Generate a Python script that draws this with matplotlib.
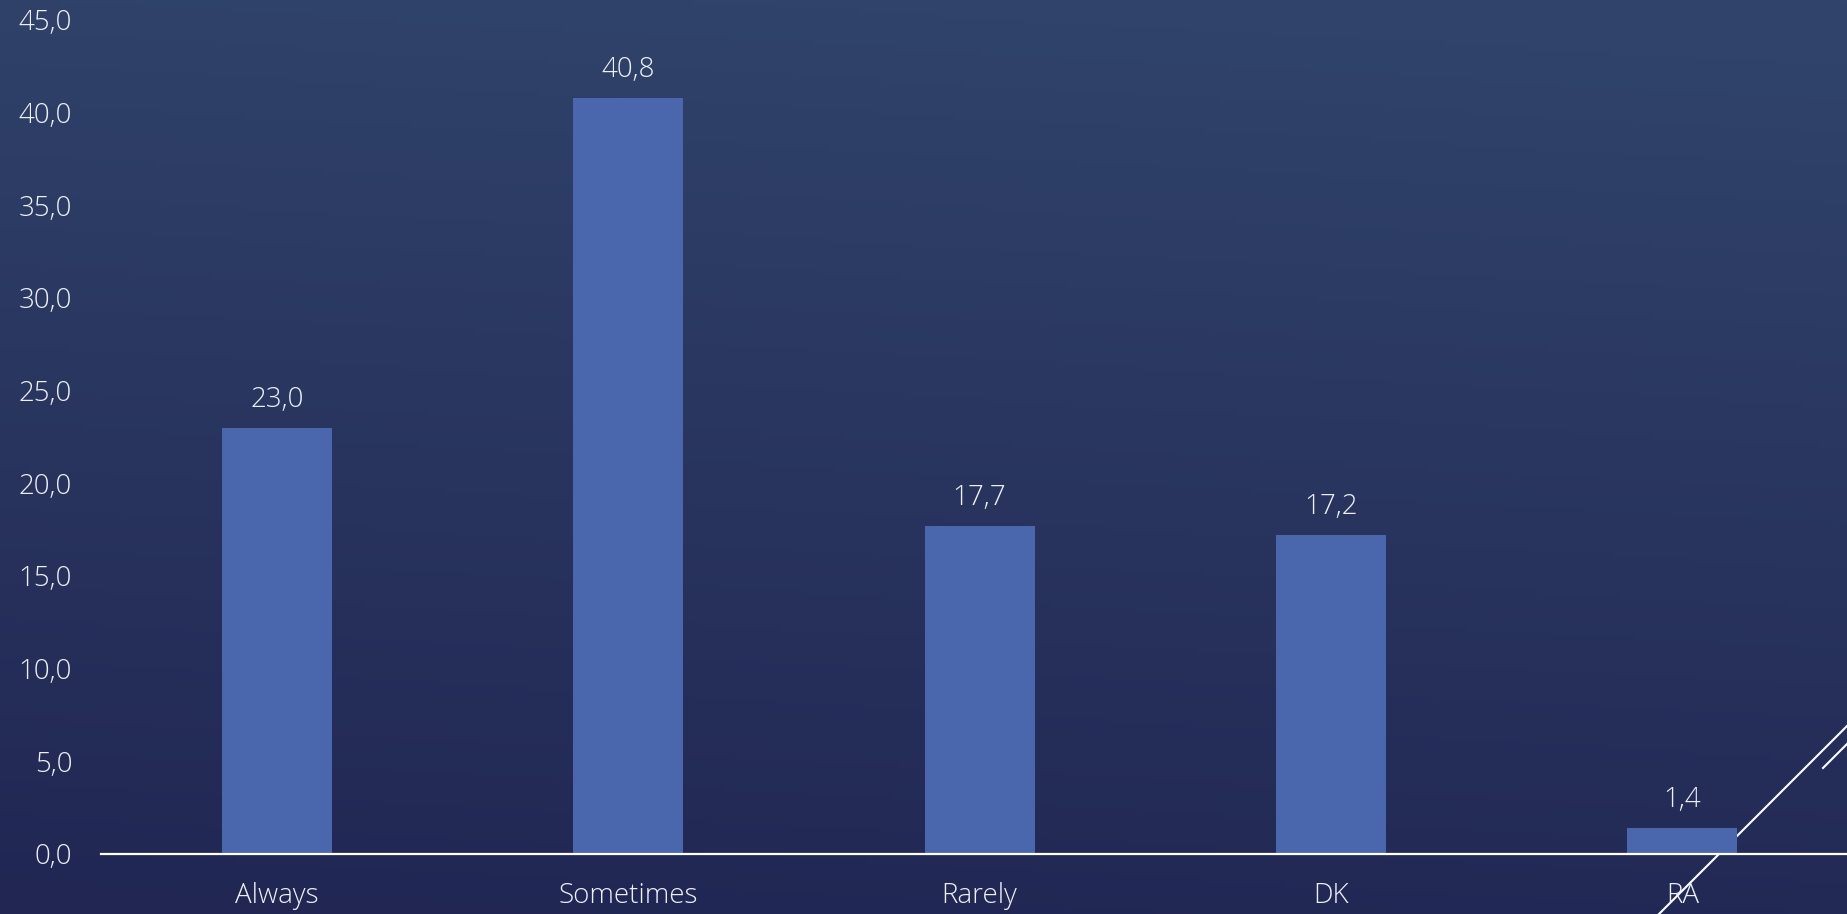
import numpy as np
import matplotlib
matplotlib.use("Agg")
import matplotlib.pyplot as plt
from matplotlib.lines import Line2D

categories = ["Always", "Sometimes", "Rarely", "DK", "RA"]
values = [23.0, 40.8, 17.7, 17.2, 1.4]
yticks = [0, 5, 10, 15, 20, 25, 30, 35, 40, 45]

plt.rcParams['font.family'] = ['Open Sans', 'DejaVu Sans']

W, H = 1847, 914
fig = plt.figure(figsize=(W / 100, H / 100), dpi=100)

# background gradient
bg = fig.add_axes([0, 0, 1, 1], zorder=0)
yy, xx = np.mgrid[0:1:200j, 0:1:400j]
t = np.clip(yy * 0.9 + (1 - xx) * 0.1, 0, 1)
top = np.array([0x31, 0x45, 0x6c]) / 255
bot = np.array([0x21, 0x26, 0x53]) / 255
img = top[None, None, :] * (1 - t[..., None]) + bot[None, None, :] * t[..., None]
bg.imshow(img, aspect='auto', extent=[0, 1, 0, 1], origin='upper')
bg.set_axis_off()

x0, x1 = 101.3, 1858.0
ybot, ytop = H - 854, H - 20
ax = fig.add_axes([x0 / W, ybot / H, (x1 - x0) / W, (ytop - ybot) / H], zorder=1)
ax.patch.set_alpha(0)

# decorative diagonal lines (behind bars)
ax.add_line(Line2D([1659 / W, (1659 + 260) / W], [0, 260 / H], transform=fig.transFigure,
                   color='white', lw=1.5, clip_on=False, zorder=0.5))
ax.add_line(Line2D([1823 / W, (1823 + 60) / W], [(H - 768) / H, (H - 768 + 60) / H],
                   transform=fig.transFigure, color='white', lw=1.5, clip_on=False, zorder=0.5))

txt = '#eef0f6'
xs = np.arange(len(categories))
ax.bar(xs, values, width=0.313, color='#4a67ae', zorder=2)
for x, v in zip(xs, values):
    ax.annotate(f"{v:.1f}".replace('.', ','), (x, v), xytext=(0, 10), textcoords='offset points',
                ha='center', va='bottom', color=txt, fontsize=20, fontweight='light', zorder=3)

ax.set_xlim(-0.5, 4.5)
ax.set_ylim(0, 45)
ax.set_yticks(yticks)
ax.set_yticklabels([f"{v:.1f}".replace('.', ',') for v in yticks])
ax.set_xticks(xs)
ax.set_xticklabels(categories)
ax.tick_params(axis='both', length=0, colors=txt, labelsize=20)
for lab in ax.get_xticklabels() + ax.get_yticklabels():
    lab.set_fontweight('light')
ax.tick_params(axis='y', pad=21)
ax.tick_params(axis='x', pad=20)
for s in ['top', 'right', 'left']:
    ax.spines[s].set_visible(False)
ax.spines['bottom'].set_color('white')
ax.spines['bottom'].set_linewidth(1.6)
ax.spines['bottom'].set_zorder(2.5)

fig.savefig("out.png", dpi=100)
